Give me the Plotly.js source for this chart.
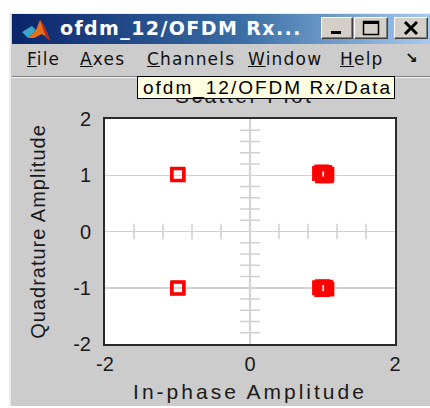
<!DOCTYPE html>
<html>
<head>
<meta charset="utf-8">
<script src="https://cdn.plot.ly/plotly-3.0.1.min.js"></script>
<style>
  body{margin:0;background:#ffffff;width:430px;height:408px;overflow:hidden;position:relative;font-family:"Liberation Sans",Arial,sans-serif;}
  #win{position:absolute;left:9px;top:13px;width:421px;height:393px;background:#cccccc;border-left:2px solid #ececec;border-top:1px solid #ececec;box-sizing:border-box;}
  #chart{position:absolute;left:0;top:0;width:430px;height:408px;}
  #titlebar{position:absolute;left:12px;top:14px;width:418px;height:30px;background:linear-gradient(to right,#0a246a 0%,#3a6ea5 55%,#a6caf0 100%);}
  #ttext{position:absolute;left:48px;top:3px;color:#fff;font-weight:bold;font-size:19px;font-family:"DejaVu Sans",Verdana,sans-serif;letter-spacing:1.4px;white-space:nowrap;}
  .btn{position:absolute;top:3px;height:22px;background:#d4d0c8;box-sizing:border-box;border-top:1px solid #fff;border-left:1px solid #fff;border-right:1px solid #404040;border-bottom:1px solid #404040;box-shadow:inset -1px -1px 0 #808080;}
  #menu{position:absolute;left:12px;top:44px;width:418px;height:32px;font-size:17px;color:#111;font-family:"DejaVu Sans",Verdana,sans-serif;letter-spacing:1.2px;}
  #menu span{position:absolute;top:5px;white-space:nowrap;}
  #sep{position:absolute;left:12px;top:76px;width:418px;height:1px;background:#808080;border-bottom:1px solid #f4f4f4;}
  #tip{position:absolute;left:137px;top:76px;width:258px;height:23px;background:#ffffe1;border:1px solid #000;box-sizing:border-box;font-size:19px;color:#000;padding-left:5px;line-height:21px;white-space:nowrap;letter-spacing:2px;font-family:"Liberation Sans",Arial,sans-serif;}
  #chart .xtitle{letter-spacing:3px;}
  #chart .ytitle{letter-spacing:1px;}
  #chart .gtitle{letter-spacing:2.5px;}
</style>
</head>
<body>
<div id="win"></div>
<div id="chart"></div>
<div id="titlebar">
  <svg style="position:absolute;left:8px;top:2px" width="34" height="26" viewBox="0 0 34 26">
    <polygon points="2,16 12,10 16,14 8,22" fill="#3aa6c8"/>
    <polygon points="8,22 16,14 20,4 24,10 30,24 22,18 14,22" fill="#e8701a"/>
    <polygon points="20,4 24,10 30,24 26,22" fill="#c0281a"/>
  </svg>
  <div id="ttext">ofdm_12/OFDM Rx...</div>
  <div class="btn" style="left:309px;width:32px;"><svg width="30" height="20"><rect x="9" y="13" width="10" height="3" fill="#000"/></svg></div>
  <div class="btn" style="left:342px;width:34px;"><svg width="32" height="20"><rect x="8.5" y="3.5" width="15" height="13" fill="none" stroke="#000" stroke-width="1.5"/><rect x="8" y="3" width="16" height="3" fill="#000"/></svg></div>
  <div class="btn" style="left:382px;width:34px;"><svg width="32" height="20"><path d="M10 4 L22 16 M22 4 L10 16" stroke="#000" stroke-width="3"/></svg></div>
</div>
<div id="menu">
  <span style="left:15px"><u>F</u>ile</span>
  <span style="left:68px"><u>A</u>xes</span>
  <span style="left:135px"><u>C</u>hannels</span>
  <span style="left:236px"><u>W</u>indow</span>
  <span style="left:328px"><u>H</u>elp</span>
  <span style="left:393px;font-weight:bold;font-size:15px;letter-spacing:0">&#8600;</span>
</div>
<div id="sep"></div>
<div id="tip">ofdm_12/OFDM Rx/Data</div>
<script>
// Tick values / labels
const xTickVals = [-2, 0, 2];
const xTickText = ['-2', '0', '2'];
const yTickVals = [-2, -1, 0, 1, 2];
const yTickText = ['-2', '-1', '0', '1', '2'];
// Minor crosshair ticks along the centre axes
const xMinorTicks = [-1.6, -1.2, -0.8, -0.4, 0.4, 0.8, 1.2, 1.6];
const yMinorTicks = [-1.8, -1.6, -1.4, -1.2, -0.8, -0.6, -0.4, -0.2, 0.2, 0.4, 0.6, 0.8, 1.2, 1.4, 1.6, 1.8];
// Received QPSK constellation samples (in-phase, quadrature)
const rxInPhase    = [-1.00, -0.99, -1.00, -0.99, 0.96, 0.99, 1.03, 1.06, 1.00, 1.05, 0.96, 1.00, 1.04, 1.06, 0.99];
const rxQuadrature = [ 1.02,  1.01, -1.01, -1.00, 1.03, 1.06, 1.05, 1.02, 0.99, 0.99, -1.00, -0.98, -0.99, -1.02, -1.03];

const font = 'Liberation Sans, Arial, sans-serif';
const tickColor = '#cfcfcf';

const traces = [
  {type:'scatter', mode:'markers', x:xMinorTicks, y:xMinorTicks.map(()=>0), hoverinfo:'skip',
   marker:{symbol:'line-ns', size:11, line:{color:tickColor, width:1.5}}},
  {type:'scatter', mode:'markers', x:yMinorTicks.map(()=>0), y:yMinorTicks, hoverinfo:'skip',
   marker:{symbol:'line-ew', size:14, line:{color:tickColor, width:1.5}}},
  {type:'scatter', mode:'markers', x:rxInPhase, y:rxQuadrature,
   marker:{symbol:'square-open', size:12, color:'#ff0000', line:{color:'#ff0000', width:3}}}
];

const layout = {
  width:430, height:408, autosize:false,
  margin:{l:105, r:35, t:119, b:64, pad:0},
  paper_bgcolor:'rgba(0,0,0,0)', plot_bgcolor:'#ffffff',
  showlegend:false,
  title:{text:'Scatter Plot', font:{family:font, size:21, color:'#1a1a1a'}, xref:'paper', x:0.48, xanchor:'center', yref:'container', y:1-96/408, yanchor:'middle'},
  xaxis:{range:[-2,2], tickmode:'array', tickvals:xTickVals, ticktext:xTickText, ticks:'', ticklabelstandoff:1,
         showgrid:true, gridcolor:'#d2d2d2', gridwidth:1.5, zeroline:false,
         showline:true, mirror:true, linecolor:'#2a2a2a', linewidth:2,
         tickfont:{family:font, size:20, color:'#1a1a1a'}, fixedrange:true,
         title:{text:'In-phase Amplitude', font:{family:font, size:21, color:'#1a1a1a'}, standoff:10}},
  yaxis:{range:[-2,2], tickmode:'array', tickvals:yTickVals, ticktext:yTickText, ticks:'', ticklabelstandoff:8,
         showgrid:true, gridcolor:'#d2d2d2', gridwidth:1.5, zeroline:false,
         showline:true, mirror:true, linecolor:'#2a2a2a', linewidth:2,
         tickfont:{family:font, size:20, color:'#1a1a1a'}, fixedrange:true,
         title:{text:'Quadrature Amplitude', font:{family:font, size:20, color:'#1a1a1a'}, standoff:22}}
};

Plotly.newPlot('chart', traces, layout, {displayModeBar:false, staticPlot:true});
</script>
</body>
</html>
